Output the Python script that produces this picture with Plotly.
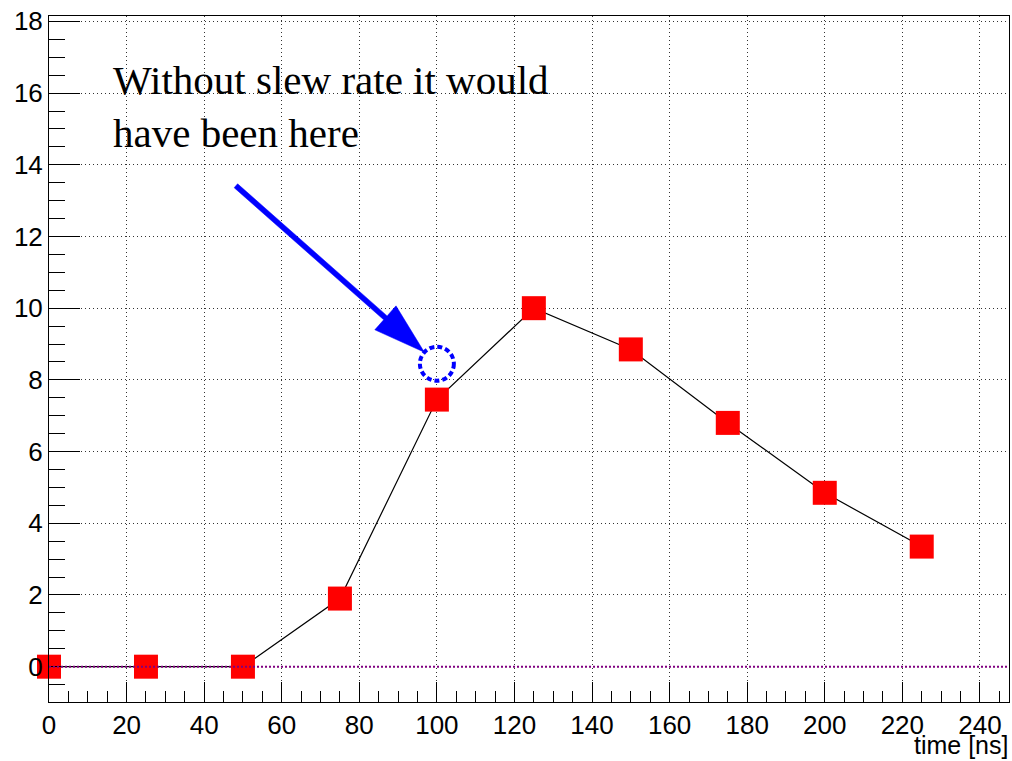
import math
import plotly.graph_objects as go

# Sampled pulse: amplitude at each sampling time
time_ns = [0, 25, 50, 75, 100, 125, 150, 175, 200, 225]
amplitude = [0.0, 0.0, 0.0, 1.9, 7.45, 10.0, 8.85, 6.8, 4.85, 3.35]

# Where the 100 ns sample would sit without slew-rate limiting
ideal_time = 100
ideal_amplitude = 8.45

x_range = [0, 247.5]
y_range = [-0.985, 18.15]

note_text = "Without slew rate it would<br>have been here"
x_title = "time [ns]"

fig = go.Figure()

fig.add_trace(go.Scatter(
    x=time_ns, y=amplitude, mode="lines+markers",
    line=dict(color="black", width=1.2),
    marker=dict(symbol="square", size=24, color="#ff0000", line=dict(width=0)),
    cliponaxis=False, showlegend=False, hoverinfo="skip",
))

# baseline at zero
fig.add_shape(type="line", xref="paper", yref="y", x0=0, x1=1, y0=0, y1=0,
              line=dict(color="#800080", width=2, dash="2px,2px"), layer="above")

# dashed ring around the expected value
fig.add_shape(type="circle", xref="x", yref="y",
              xsizemode="pixel", ysizemode="pixel",
              xanchor=ideal_time, yanchor=ideal_amplitude,
              x0=-17, x1=17, y0=-17, y1=17,
              line=dict(color="#0000ff", width=4, dash="5px,3px"),
              layer="above")

# arrow (pixel offsets relative to the ring centre, y pointing up)
start = (-201.0, 178.0)
tip = (-12.5, 11.5)
shaft_half, head_len, head_half = 2.6, 52.0, 16.0
dx, dy = tip[0] - start[0], tip[1] - start[1]
L = math.hypot(dx, dy)
ux, uy = dx / L, dy / L
nx, ny = -uy, ux
bx, by = tip[0] - head_len * ux, tip[1] - head_len * uy
pts = [
    (start[0] + shaft_half * nx, start[1] + shaft_half * ny),
    (bx + shaft_half * nx, by + shaft_half * ny),
    (bx + head_half * nx, by + head_half * ny),
    tip,
    (bx - head_half * nx, by - head_half * ny),
    (bx - shaft_half * nx, by - shaft_half * ny),
    (start[0] - shaft_half * nx, start[1] - shaft_half * ny),
]
path = "M " + " L ".join(f"{px:.2f},{py:.2f}" for px, py in pts) + " Z"
fig.add_shape(type="path", xref="x", yref="y",
              xsizemode="pixel", ysizemode="pixel",
              xanchor=ideal_time, yanchor=ideal_amplitude,
              path=path, fillcolor="#0000ff", line=dict(color="#0000ff", width=0.5),
              layer="above")

fig.add_annotation(
    x=16.0, y=17.05, xref="x", yref="y", xanchor="left", yanchor="top",
    text=note_text, showarrow=False, align="left",
    font=dict(family="Liberation Serif, Times New Roman, serif", size=41, color="black"),
)

fig.add_annotation(
    x=1, y=0, xref="paper", yref="paper", xanchor="right", yanchor="top",
    xshift=1, yshift=-27,
    text=x_title, showarrow=False,
    font=dict(family="Liberation Sans, Arial, sans-serif", size=25, color="black"),
)

axis_common = dict(
    showline=True, linecolor="black", linewidth=1, mirror=True,
    ticks="inside", tickcolor="black", tickwidth=1,
    showgrid=True, gridcolor="#333333", gridwidth=1, griddash="1px,3px",
    zeroline=False,
    tickfont=dict(family="Liberation Sans, Arial, sans-serif", size=26, color="black"),
)

fig.update_xaxes(range=x_range, tickmode="linear", tick0=0, dtick=20, ticklen=20,
                 minor=dict(ticks="inside", ticklen=11, tick0=0, dtick=5,
                            tickcolor="black", tickwidth=1, showgrid=False),
                 **axis_common)
fig.update_yaxes(range=y_range, tickmode="linear", tick0=0, dtick=2, ticklen=31,
                 minor=dict(ticks="inside", ticklen=16, tick0=0, dtick=0.5,
                            tickcolor="black", tickwidth=1, showgrid=False),
                 **axis_common)

fig.update_layout(
    width=1012, height=761,
    margin=dict(l=49, r=3, t=16, b=59),
    plot_bgcolor="white", paper_bgcolor="white",
)

fig.write_html("out.html")
